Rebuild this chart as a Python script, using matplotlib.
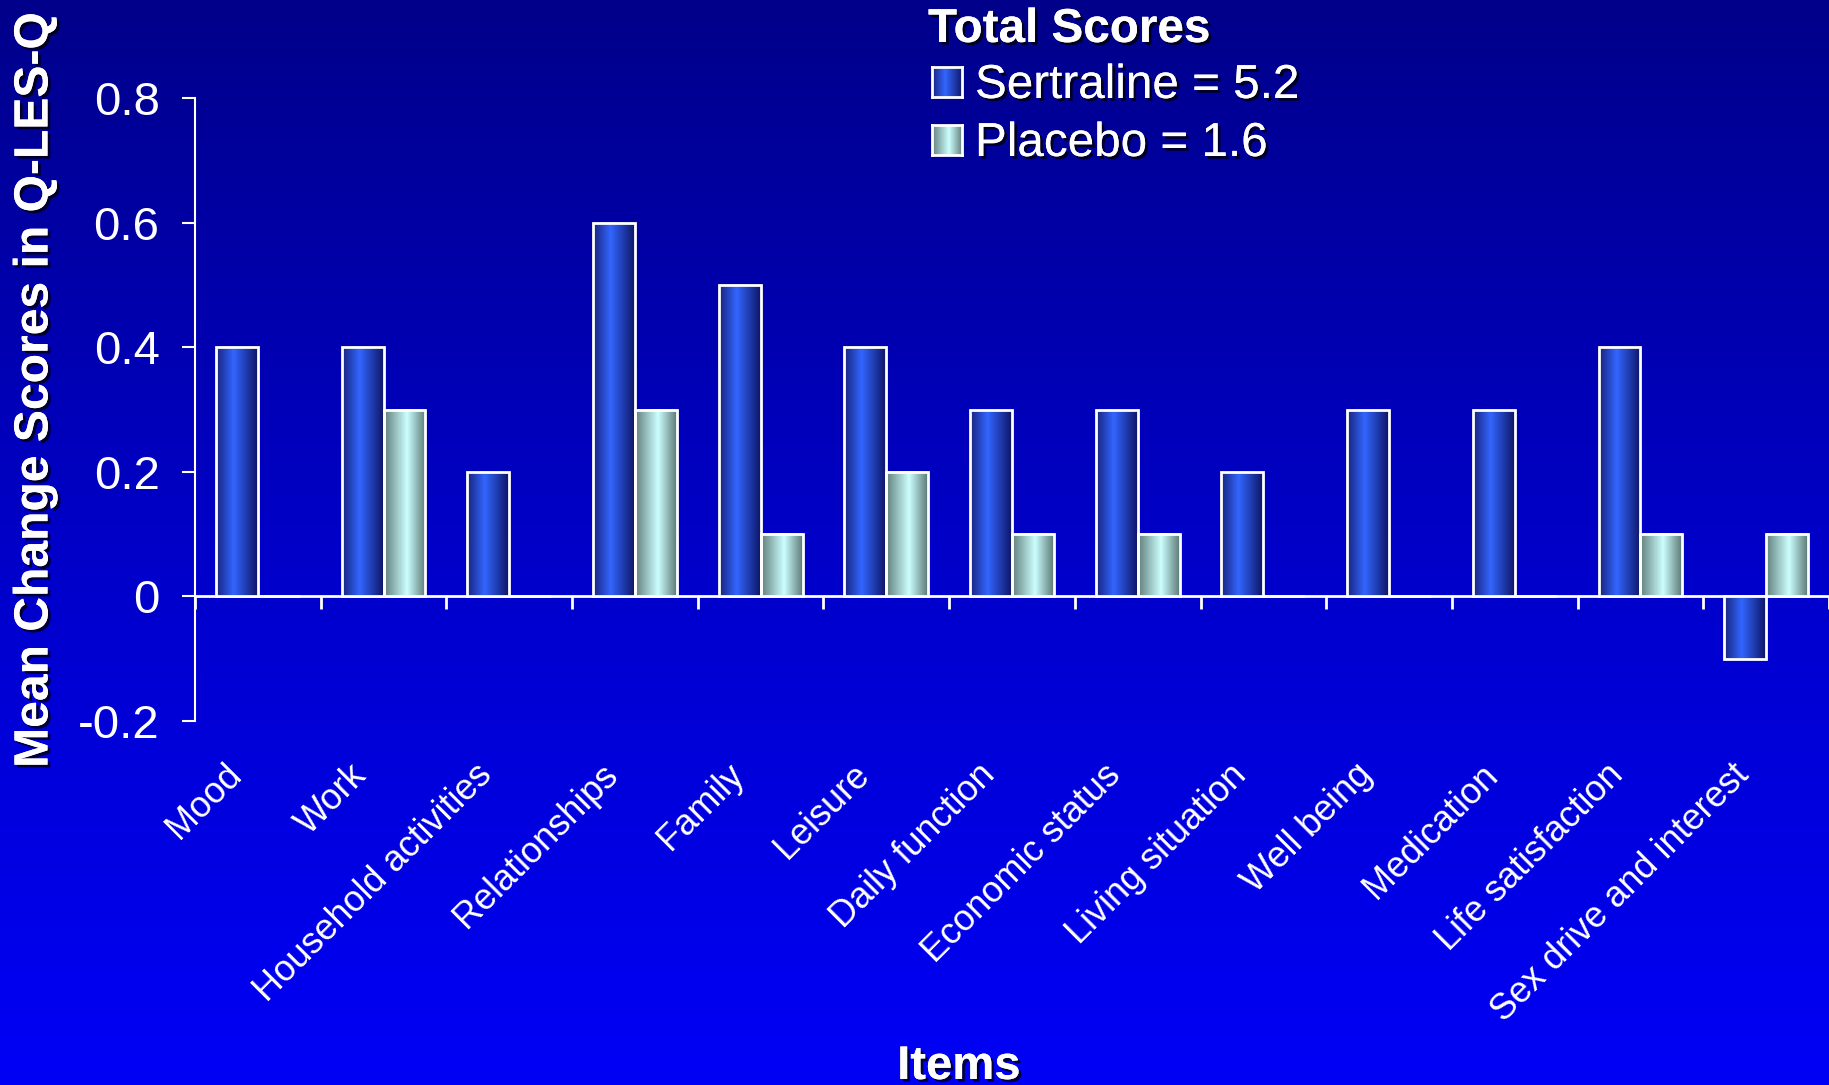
import numpy as np
import matplotlib
matplotlib.use("Agg")
import matplotlib.pyplot as plt
import matplotlib.patheffects as pe
from matplotlib.colors import LinearSegmentedColormap
from matplotlib.transforms import ScaledTranslation

# ---- data ----
categories = ["Mood", "Work", "Household activities", "Relationships", "Family",
              "Leisure", "Daily function", "Economic status", "Living situation",
              "Well being", "Medication", "Life satisfaction", "Sex drive and interest"]
sertraline = [0.4, 0.4, 0.2, 0.6, 0.5, 0.4, 0.3, 0.3, 0.2, 0.3, 0.3, 0.4, -0.1]
placebo = [0.0, 0.3, 0.0, 0.3, 0.1, 0.2, 0.1, 0.1, 0.0, 0.0, 0.0, 0.1, 0.1]
yticks = [-0.2, 0, 0.2, 0.4, 0.6, 0.8]
ytick_labels = ["-0.2", "0", "0.2", "0.4", "0.6", "0.8"]
legend_title = "Total Scores"
legend_labels = ["Sertraline = 5.2", "Placebo = 1.6"]
ylabel = "Mean Change Scores in Q-LES-Q"
xlabel = "Items"

plt.rcParams['font.family'] = ['Liberation Sans', 'DejaVu Sans']

W, H = 1829, 1085
fig = plt.figure(figsize=(W / 100, H / 100), dpi=100)

# background gradient
bg = fig.add_axes([0, 0, 1, 1], zorder=-10)
bg_cmap = LinearSegmentedColormap.from_list("bg", ["#00008a", "#0000c8", "#0000f6"])
bg.imshow(np.linspace(0, 1, 256).reshape(-1, 1), cmap=bg_cmap, aspect='auto',
          extent=[0, 1, 1, 0])
bg.set_axis_off()

cmap_s = LinearSegmentedColormap.from_list("s", [(0, "#18237e"), (0.42, "#3366ff"), (1, "#0e1668")])
cmap_p = LinearSegmentedColormap.from_list("p", [(0, "#62807d"), (0.55, "#ccffff"), (1, "#5e7b78")])
grad = np.linspace(0, 1, 64).reshape(1, -1)

def px2fig(x0, y0, x1, y1):
    return [x0 / W, 1 - y1 / H, (x1 - x0) / W, (y1 - y0) / H]

ax = fig.add_axes(px2fig(195, 98, 1829, 721))
ax.set_facecolor("none")

n = len(categories)
centers = np.arange(n) + 0.5
bw = 1 / 3
for series, cm, off in [(sertraline, cmap_s, -bw / 2), (placebo, cmap_p, bw / 2)]:
    bars = ax.bar(centers + off, series, width=bw, facecolor="none", edgecolor="white",
                  linewidth=2, zorder=3)
    for b in bars:
        h = b.get_height()
        if h == 0:
            continue
        x0 = b.get_x()
        ax.imshow(grad, cmap=cm, aspect='auto', zorder=2,
                  extent=[x0, x0 + b.get_width(), min(0, h), max(0, h)])

ax.set_xlim(0, n)
ax.set_ylim(-0.2, 0.8)
for s in ["top", "right", "bottom"]:
    ax.spines[s].set_visible(False)
ax.spines["left"].set_color("white")
ax.spines["left"].set_linewidth(1.5)
ax.set_yticks(yticks, ytick_labels)
ax.tick_params(axis='y', colors='white', labelcolor='white', labelsize=34,
               length=9.5, width=1.5, pad=16)
ax.set_xticks(centers, categories, rotation=45, ha='right', va='center',
              rotation_mode='anchor')
ax.tick_params(axis='x', length=0, labelcolor='white', labelsize=26, pad=35)
for lbl in ax.get_xticklabels():
    lbl.set_transform(lbl.get_transform() + ScaledTranslation(-0.22, 0, fig.dpi_scale_trans))

# zero line with boundary ticks
loc0 = (0 - (-0.2)) / (0.8 - (-0.2))
sec = ax.secondary_xaxis(loc0)
sec.set_xticks(np.arange(n + 1), [""] * (n + 1))
sec.spines["bottom"].set_color("white")
sec.spines["bottom"].set_linewidth(2)
sec.tick_params(axis='x', direction='out', length=9.5, width=2, colors='white')

shadow = [pe.withSimplePatchShadow(offset=(2, -2), shadow_rgbFace='black', alpha=0.75), pe.Normal()]

fig.text(35 / W, 1 - 390 / H, ylabel, rotation=90, ha='center', va='center',
         fontsize=34.6, fontweight='bold', color='white', path_effects=shadow)
fig.text(959 / W, 1 - 1079 / H, xlabel, ha='center', va='baseline',
         fontsize=34, fontweight='bold', color='white', path_effects=shadow)

# legend (manual)
fig.text(928 / W, 1 - 42 / H, legend_title, ha='left', va='baseline', fontsize=34.3,
         fontweight='bold', color='white', path_effects=shadow)
for i, (lab, cm) in enumerate(zip(legend_labels, [cmap_s, cmap_p])):
    y0 = 67 + i * 58
    sq = fig.add_axes(px2fig(932, y0, 962, y0 + 30))
    sq.imshow(grad, cmap=cm, aspect='auto')
    sq.set_xticks([]); sq.set_yticks([])
    for s in sq.spines.values():
        s.set_color("white"); s.set_linewidth(2)
    fig.text(975 / W, 1 - (y0 + 31) / H, lab, ha='left', va='baseline', fontsize=34.3,
             color='white', path_effects=shadow)

fig.savefig("out.png", dpi=100)
